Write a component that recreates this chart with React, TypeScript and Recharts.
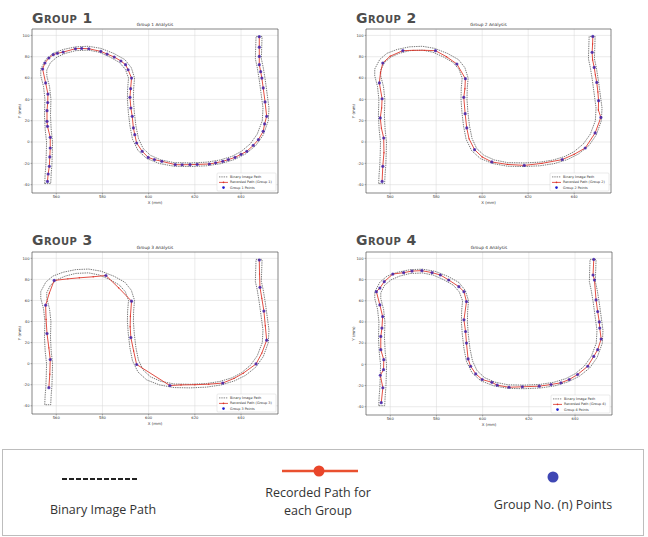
import React from "react"
import { CartesianGrid, ComposedChart, Line, ReferenceArea, Scatter, XAxis, YAxis } from "recharts"

type Pt = [number, number]

const xTicks = [560, 580, 600, 620, 640]
const yTicks = [-40, -20, 0, 20, 40, 60, 80, 100]
const xDomain: [number, number] = [549.5, 656]
const yDomain: [number, number] = [-47.8, 106]

// outline of the binary image track, one side then the other
const binarySideA: Pt[] = [
  [555, -39], [555.2, -30], [555.5, -22], [555.7, -10], [555.8, 0], [555.2, 12], [554.9, 25], [555.1, 40],
  [554.5, 52], [553.3, 62], [553.3, 68.5], [555.5, 77.5], [558.6, 83.2], [563, 86.8], [568.5, 89.3],
  [574, 89.8], [579.4, 87.8], [585, 83], [589.7, 77.3], [592.5, 69.7], [593.9, 60], [593.5, 50],
  [593.4, 40], [593.8, 28], [594.5, 15], [595.6, 3.3], [597.6, -6], [600.8, -12.5], [605.3, -16.8],
  [611, -19.3], [618, -19.6], [625, -18.9], [630.8, -16.9], [636, -13.5], [640.1, -8.8], [644, -1.7],
  [647, 7.4], [649.2, 20], [649.5, 32], [648.7, 45], [647.9, 58], [647, 70], [646.2, 78], [646.3, 86],
  [646.5, 99],
]
const binarySideB: Pt[] = [
  [557.6, -39], [557.8, -30], [558.1, -22], [558.3, -10], [558.4, 0], [557.8, 12], [557.5, 25], [557.7, 40],
  [557.1, 52], [555.9, 62], [555.9, 67.5], [557.5, 74.5], [560.4, 79.8], [564, 83.2], [568.5, 85.7],
  [574, 86.2], [578.6, 84.2], [583, 80], [587.3, 74.7], [589.9, 68.3], [591.3, 60], [590.9, 50],
  [590.8, 40], [591.2, 28], [591.9, 15], [593, 2.7], [595.4, -8], [599.2, -15.5], [604.7, -20.2],
  [611, -22.7], [618, -23], [625, -22.3], [631.2, -20.3], [637, -16.5], [641.9, -11.2], [646.4, -3.3],
  [649.6, 6.6], [651.8, 20], [652.1, 32], [651.3, 45], [650.5, 58], [649.6, 70], [648.8, 78], [648.9, 86],
  [649.1, 99],
]

const group1Points: Pt[] = [
  [556.2, -36.9], [556.5, -30], [557.0, -22.8], [557.2, -14], [557.4, -5.6], [557.4, 4.4], [556.2, 14.7],
  [556.0, 19.4], [556.0, 29.4], [556.3, 37], [556.4, 45.0], [555.4, 55.4], [554.1, 68.5], [555.1, 74.1],
  [556.8, 78.8], [558.7, 81.9], [560.5, 83.2], [563.0, 84.4], [568.3, 87.5], [571, 87.8], [574.1, 87.5],
  [579.3, 85.0], [582, 82.5], [585.1, 79.7], [588, 76], [590.0, 72.5], [591.1, 67.8], [592.6, 60.0],
  [592.2, 50], [591.9, 41.9], [592.3, 31.9], [592.9, 24.1], [593.4, 13.2], [594.0, 6.9], [594.8, -0.9],
  [597.2, -8.7], [599.8, -14.4], [602.5, -16.5], [605.7, -18.1], [611.5, -21.2], [614.5, -21.3],
  [617.9, -21.2], [621, -21], [626.3, -20.6], [629, -19.5], [632.1, -18.1], [634.5, -16.5], [637.4, -14.4],
  [640, -11.5], [642.5, -8.7], [645.3, -3.1], [647.5, 2.2], [649.6, 10.0], [650.2, 17], [651.1, 24.1],
  [650.4, 37.6], [649.6, 50.7], [649.0, 60.0], [648.5, 66], [647.9, 72.5], [647.9, 80.3], [647.9, 89],
  [647.9, 98.8],
]
const group1Path = group1Points

const group2Points: Pt[] = [
  [556.5, -36.9], [556.8, -22.8], [557.2, 3.8], [555.7, 22.6], [556.5, 40.6], [555.3, 55.4], [556.8, 74.1],
  [565.5, 85.7], [579.7, 85.7], [589.0, 73.2], [592.7, 59.4], [592.0, 41.9], [592.6, 26.6], [593.3, 13.2],
  [596.7, -7.2], [604.2, -18.7], [618.3, -21.9], [634.8, -16.5], [644.8, -5.6], [649.1, 8.5], [651.6, 23.1],
  [650.6, 38.8], [649.8, 55.9], [648.7, 70.0], [647.8, 84.1], [648.1, 99.0],
]
const group2Path: Pt[] = [
  [556.5, -36.9], [556.8, -22.8], [557.3, -10], [557.2, 3.8], [556.2, 13], [555.7, 22.6], [556.3, 32],
  [556.5, 40.6], [555.3, 55.4], [555.8, 65], [556.8, 74.1], [560, 80.5], [565.5, 85.7], [570, 86],
  [575, 86], [579.7, 85.7], [584.5, 80], [589.0, 73.2], [592.7, 59.4], [592.5, 50], [592.0, 41.9],
  [592.6, 26.6], [593.3, 13.2], [594.3, 3], [596.7, -7.2], [600, -14], [604.2, -18.7], [611, -21],
  [618.3, -21.9], [626, -20], [634.8, -16.5], [640, -11.5], [644.8, -5.6], [649.1, 8.5], [651.6, 23.1],
  [650.5, 30], [650.6, 38.8], [650.3, 47], [649.8, 55.9], [649.2, 63], [648.7, 70.0], [648, 77],
  [647.8, 84.1], [648, 92], [648.1, 99.0],
]

const group3Points: Pt[] = [
  [556.8, -22.8], [557.4, 3.9], [556.0, 28.6], [555.4, 55.5], [559.1, 79.0], [581.5, 83.7], [592.6, 59.3],
  [592.3, 24.8], [594.8, -0.8], [609.2, -20.8], [632.1, -18.4], [646.5, -0.3], [651.1, 22.3], [649.9, 49.9],
  [648.2, 72.5], [647.9, 98.4],
]
const group3Path: Pt[] = [
  [556.8, -22.8], [557.2, -10], [557.4, 3.9], [556.8, 15], [556.0, 28.6], [555.6, 42], [555.4, 55.5],
  [557, 67], [559.1, 79.0], [565, 80.5], [570, 81.5], [576, 82.5], [581.5, 83.7], [587, 72], [592.6, 59.3],
  [592.1, 45], [592.0, 35], [592.3, 24.8], [593.5, 12], [594.8, -0.8], [609.2, -20.8], [614, -20.2],
  [620, -20], [626, -19.5], [632.1, -18.4], [637, -14], [641, -9], [646.5, -0.3], [649, 10], [651.1, 22.3],
  [650.5, 36], [649.9, 49.9], [649, 62], [648.2, 72.5], [648, 85], [647.9, 98.4],
]

const group4Points: Pt[] = [
  [556.1, -36.2], [556.8, -22.1], [555.7, -10.3], [557.1, -5.0], [557.2, 4.4], [555.9, 13.8], [555.9, 26.3],
  [556.4, 34.2], [556.7, 45.1], [555.5, 56.1], [554.0, 68.6], [555.5, 72.0], [557.4, 78.0], [561.1, 85.2],
  [565.8, 86.5], [569.4, 88.0], [573.7, 88.4], [578.1, 86.5], [581.7, 84.3], [585.3, 79.6], [589.7, 73.3],
  [591.9, 68.6], [593.0, 59.2], [591.9, 42.0], [592.6, 31.0], [593.0, 20.1], [593.7, 5.1], [594.8, -1.8],
  [597.0, -9.0], [599.8, -14.3], [604.0, -17.0], [606.3, -19.7], [611.4, -21.6], [617.2, -21.2],
  [624.5, -20.6], [629.6, -19.0], [633.9, -17.4], [637.5, -14.3], [641.1, -9.6], [645.5, -1.8], [648.1, 7.5],
  [649.8, 13.8], [651.3, 23.9], [650.7, 34.2], [650.5, 40.0], [649.8, 49.8], [649.1, 60.8], [648.4, 79.6],
  [647.8, 84.3], [648.1, 99.0],
]
const group4Path = group4Points

const toXY = (pts: Pt[]) => pts.map(([x, y]) => ({ x, y }))
const binaryLoop = toXY([...binarySideA, ...binarySideB.slice().reverse(), binarySideA[0]])

const RED = "#dc2f24"
const BLUE = "#3a22b0"
const FONT = "DejaVu Sans"

const panels = [
  { id: 1, left: 0, top: 0, yAxisW: 32, marginRight: 46, marginTop: 29, xAxisH: 22, headTop: 10.5, path: group1Path, points: group1Points },
  { id: 2, left: 324, top: 0, yAxisW: 42, marginRight: 37, marginTop: 29, xAxisH: 22, headTop: 10.5, path: group2Path, points: group2Points },
  { id: 3, left: 0, top: 220, yAxisW: 32, marginRight: 46, marginTop: 32, xAxisH: 21, headTop: 12.5, path: group3Path, points: group3Points },
  { id: 4, left: 324, top: 220, yAxisW: 42, marginRight: 36, marginTop: 32, xAxisH: 20, headTop: 12.5, path: group4Path, points: group4Points },
]

const XLabel = ({ viewBox }: any) => {
  const cx = viewBox.x + viewBox.width / 2
  const cy = viewBox.y + 9.5
  return (
    <text x={cx} y={cy} textAnchor="middle" dominantBaseline="middle" fontSize={3.9} fill="#333" fontFamily={FONT}>
      X (mm)
    </text>
  )
}

const YLabel = ({ viewBox }: any) => {
  const cx = viewBox.x + viewBox.width - 12
  const cy = viewBox.y + viewBox.height / 2
  return (
    <text
      x={cx}
      y={cy}
      transform={`rotate(-90 ${cx} ${cy})`}
      textAnchor="middle"
      dominantBaseline="middle"
      fontSize={3.9}
      fill="#333"
      fontFamily={FONT}
    >
      Y (mm)
    </text>
  )
}

const BlueDot = (props: any) => <circle cx={props.cx} cy={props.cy} r={1.6} fill={BLUE} fillOpacity={0.8} />

function Panel({ cfg }: { cfg: (typeof panels)[number] }) {
  const w = 324
  const h = 215
  const plotLeft = cfg.yAxisW
  const plotRight = w - cfg.marginRight
  const plotTop = cfg.marginTop
  const plotBottom = h - cfg.xAxisH
  const lx = plotRight - 61
  const ly = plotBottom - 20
  const tick = { fontSize: 3.7, fill: "#333", fontFamily: FONT }

  return (
    <div style={{ position: "absolute", left: cfg.left, top: cfg.top, width: w, height: h }}>
      <div
        style={{
          position: "absolute",
          left: 32,
          top: cfg.headTop,
          fontFamily: FONT,
          fontWeight: "bold",
          fontVariant: "small-caps",
          fontSize: 14,
          lineHeight: "14px",
          letterSpacing: 0.4,
          color: "#4d4d4d",
          whiteSpace: "nowrap",
        }}
      >
        Group {cfg.id}
      </div>
      <div style={{ position: "absolute", left: 0, top: 0 }}>
        <ComposedChart width={w} height={h} margin={{ top: cfg.marginTop, right: cfg.marginRight, bottom: 0, left: 0 }}>
          <CartesianGrid stroke="#d6d6d6" strokeWidth={0.5} />
          <XAxis
            type="number"
            dataKey="x"
            domain={xDomain}
            ticks={xTicks}
            interval={0}
            allowDataOverflow
            height={cfg.xAxisH}
            tick={tick}
            tickSize={1.5}
            tickMargin={0.8}
            axisLine={false}
            tickLine={{ stroke: "#444", strokeWidth: 0.4 }}
            label={<XLabel />}
          />
          <YAxis
            type="number"
            dataKey="y"
            domain={yDomain}
            ticks={yTicks}
            interval={0}
            allowDataOverflow
            width={cfg.yAxisW}
            tick={tick}
            tickSize={1.5}
            tickMargin={1}
            axisLine={false}
            tickLine={{ stroke: "#444", strokeWidth: 0.4 }}
            label={<YLabel />}
          />
          <ReferenceArea
            x1={xDomain[0]}
            x2={xDomain[1]}
            y1={yDomain[0]}
            y2={yDomain[1]}
            fill="none"
            stroke="#4a4a4a"
            strokeWidth={0.6}
            ifOverflow="visible"
          />
          <Line
            data={binaryLoop}
            dataKey="y"
            type="linear"
            stroke="#222"
            strokeWidth={0.6}
            strokeDasharray="1.4 0.9"
            dot={false}
            activeDot={false}
            isAnimationActive={false}
          />
          <Line
            data={toXY(cfg.path)}
            dataKey="y"
            type="linear"
            stroke={RED}
            strokeWidth={0.85}
            dot={{ r: 0.7, fill: RED, stroke: "none" }}
            activeDot={false}
            isAnimationActive={false}
          />
          <Scatter data={toXY(cfg.points)} dataKey="y" shape={BlueDot} isAnimationActive={false} />
        </ComposedChart>
      </div>
      <svg width={w} height={h} style={{ position: "absolute", left: 0, top: 0, pointerEvents: "none" }}>
        <text
          x={(plotLeft + plotRight) / 2}
          y={plotTop - 3.4}
          textAnchor="middle"
          fontSize={4.3}
          fill="#333"
          fontFamily={FONT}
        >
          Group {cfg.id} Analysis
        </text>
        <rect x={lx} y={ly} width={59} height={18} rx={1} fill="#fff" fillOpacity={0.85} stroke="#ccc" strokeWidth={0.4} />
        <line x1={lx + 2} x2={lx + 11} y1={ly + 3.9} y2={ly + 3.9} stroke="#333" strokeWidth={0.6} strokeDasharray="1.4 0.9" />
        <line x1={lx + 2} x2={lx + 11} y1={ly + 9.4} y2={ly + 9.4} stroke={RED} strokeWidth={0.8} />
        <circle cx={lx + 6.5} cy={ly + 9.4} r={0.8} fill={RED} />
        <circle cx={lx + 6.5} cy={ly + 14.6} r={1.3} fill="#1c1cd0" />
        <g fontSize={3.4} fill="#333" fontFamily={FONT} dominantBaseline="middle">
          <text x={lx + 13} y={ly + 3.9}>Binary Image Path</text>
          <text x={lx + 13} y={ly + 9.4}>Recorded Path (Group {cfg.id})</text>
          <text x={lx + 13} y={ly + 14.6}>Group {cfg.id} Points</text>
        </g>
      </svg>
    </div>
  )
}

function BottomLegend() {
  const txt = { fontFamily: "Open Sans", fontSize: 12.5, fill: "#333", textAnchor: "middle" as const }
  return (
    <svg width={648} height={97} style={{ position: "absolute", left: 0, top: 440 }}>
      <rect x={2.5} y={9.5} width={641} height={86} fill="#fff" stroke="#bdbdbd" strokeWidth={1} />
      <line x1={62} x2={138} y1={39} y2={39} stroke="#222" strokeWidth={2} strokeDasharray="5 2" />
      <text {...txt} x={103} y={74}>Binary Image Path</text>
      <line x1={282} x2={358} y1={31} y2={31} stroke="#e9502f" strokeWidth={2.5} />
      <circle cx={319} cy={31} r={5.5} fill="#e9452a" />
      <text {...txt} x={318} y={57}>Recorded Path for</text>
      <text {...txt} x={318} y={75}>each Group</text>
      <circle cx={553} cy={37} r={5.5} fill="#3f47b4" />
      <text {...txt} x={553} y={69}>Group No. (n) Points</text>
    </svg>
  )
}

export default function App() {
  return (
    <div style={{ position: "absolute", left: 0, top: 0, width: 648, height: 537, background: "#fff", overflow: "hidden" }}>
      {panels.map((p) => (
        <Panel key={p.id} cfg={p} />
      ))}
      <BottomLegend />
    </div>
  )
}
